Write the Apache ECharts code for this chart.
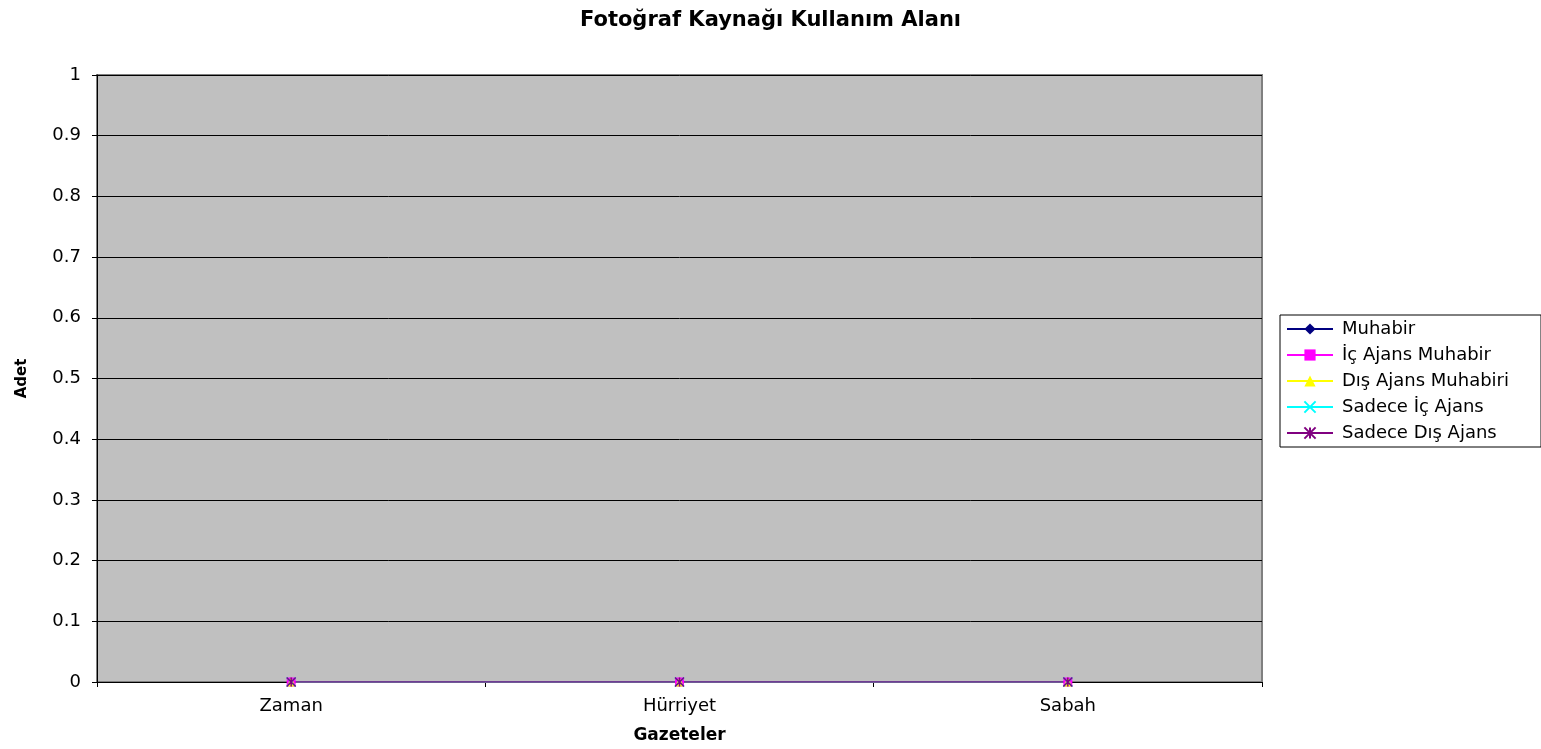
<!DOCTYPE html>
<html>
<head>
<meta charset="utf-8">
<script src="https://cdn.jsdelivr.net/npm/echarts@6/dist/echarts.min.js"></script>
<style>
html, body { margin: 0; padding: 0; background: #fff; }
#chart { width: 1541px; height: 749px; }
</style>
</head>
<body>
<div id="chart"></div>
<script>
var categories = ['Zaman', 'Hürriyet', 'Sabah'];
var seriesNames = ['Muhabir', 'İç Ajans Muhabir', 'Dış Ajans Muhabiri', 'Sadece İç Ajans', 'Sadece Dış Ajans'];
var muhabir = [0, 0, 0];
var icAjansMuhabir = [0, 0, 0];
var disAjansMuhabiri = [0, 0, 0];
var sadeceIcAjans = [0, 0, 0];
var sadeceDisAjans = [0, 0, 0];

var chartDom = document.getElementById('chart');
var myChart = echarts.init(chartDom);

// kesişen çizgi ve yıldız işaretleri
var crossPath = 'path://M0,0L10,10M10,0L0,10';
var starPath = 'path://M0,0L10,10M10,0L0,10M5,0L5,10';

function lineSeries(name, data, color, symbol, size, stroke) {
	return {
		name: name,
		type: 'line',
		data: data,
		symbol: symbol,
		symbolSize: size,
		showSymbol: true,
		lineStyle: { color: color, width: 1.5 },
		itemStyle: stroke ? { color: color, borderColor: color, borderWidth: 1.5 } : { color: color, borderWidth: 0 },
		emphasis: { disabled: true }
	};
}

var option = {
	animation: false,
	textStyle: { fontFamily: 'DejaVu Sans, Arial, sans-serif' },
	title: {
		text: 'Fotoğraf Kaynağı Kullanım Alanı',
		left: 'center',
		top: 5,
		textStyle: { fontSize: 21, fontWeight: 'bold', color: '#000' }
	},
	legend: {
		orient: 'vertical',
		left: 1280,
		top: 315,
		itemWidth: 46,
		itemHeight: 14,
		itemGap: 8,
		padding: [5, 32, 5, 6],
		borderColor: '#000',
		borderWidth: 1,
		backgroundColor: '#fff',
		textStyle: { fontSize: 18, lineHeight: 18, color: '#000', padding: [0, 0, 0, 4] },
		data: seriesNames
	},
	grid: {
		left: 97,
		right: 279,
		top: 75,
		bottom: 67,
		outerBoundsMode: 'none',
		show: true,
		backgroundColor: '#C0C0C0',
		borderColor: '#808080',
		borderWidth: 2
	},
	xAxis: {
		type: 'category',
		data: categories,
		boundaryGap: true,
		name: 'Gazeteler',
		nameLocation: 'middle',
		nameGap: 45,
		nameTextStyle: { fontSize: 17, fontWeight: 'bold', color: '#000' },
		axisLine: { lineStyle: { color: '#000', width: 1 } },
		axisTick: { show: true, alignWithLabel: false, length: 5, lineStyle: { color: '#000' } },
		axisLabel: { fontSize: 18, color: '#000', margin: 15 },
		splitLine: { show: false }
	},
	yAxis: {
		type: 'value',
		min: 0,
		max: 1,
		interval: 0.1,
		name: 'Adet',
		nameLocation: 'middle',
		nameRotate: 90,
		nameGap: 67,
		nameTextStyle: { fontSize: 15, fontWeight: 'bold', color: '#000' },
		axisLine: { show: true, lineStyle: { color: '#000', width: 1 } },
		axisTick: { show: true, length: 5, lineStyle: { color: '#000' } },
		axisLabel: { fontSize: 18, color: '#000', margin: 16 },
		splitLine: { show: true, lineStyle: { color: '#000', width: 1 } }
	},
	series: [
		lineSeries(seriesNames[0], muhabir, '#000080', 'diamond', 9, false),
		lineSeries(seriesNames[1], icAjansMuhabir, '#FF00FF', 'rect', 9, false),
		lineSeries(seriesNames[2], disAjansMuhabiri, '#FFFF00', 'triangle', 9, false),
		lineSeries(seriesNames[3], sadeceIcAjans, '#00FFFF', crossPath, 9, true),
		lineSeries(seriesNames[4], sadeceDisAjans, '#800080', starPath, 9, true)
	]
};

option && myChart.setOption(option);
</script>
</body>
</html>
